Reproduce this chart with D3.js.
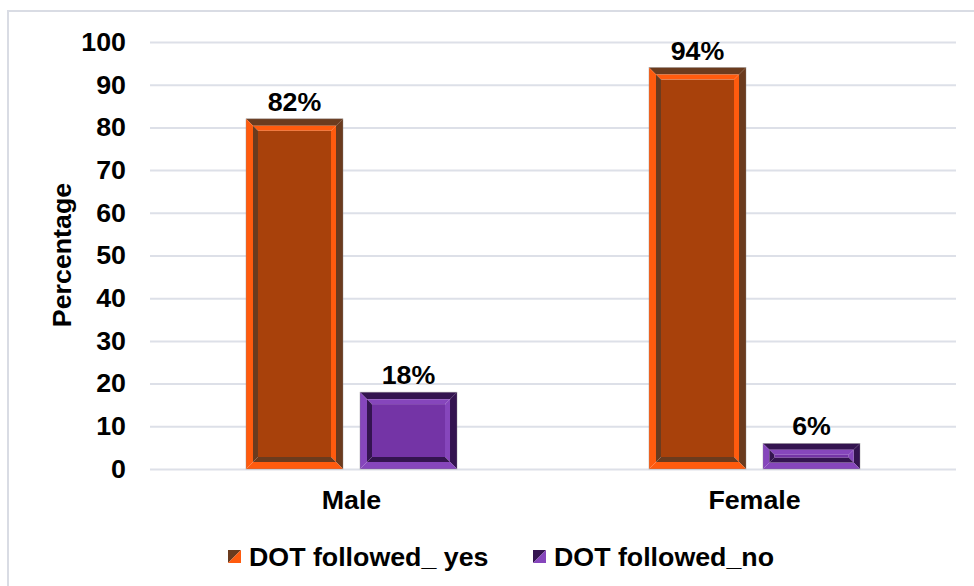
<!DOCTYPE html>
<html>
<head>
<meta charset="utf-8">
<script src="https://cdn.jsdelivr.net/npm/d3@7"></script>
<style>
  html, body { margin: 0; padding: 0; background: #fff; }
  svg { display: block; font-family: "Liberation Sans", Arial, sans-serif; font-weight: bold; }
</style>
</head>
<body>
<svg id="chart" width="974" height="586"></svg>
<script>
// Chart data
const categories = ["Male", "Female"];
const seriesNames = ["DOT followed_ yes", "DOT followed_no"];
const yesValues = [82, 94];
const noValues = [18, 6];
const yTicks = [0, 10, 20, 30, 40, 50, 60, 70, 80, 90, 100];

// Bevel palettes per series: face, light edge, dark edge
const palettes = [
  { face: "#a8410b", light: "#ff5b0e", dark: "#6b3b1e" },
  { face: "#7434a6", light: "#8646bc", dark: "#341450" }
];

const svg = d3.select("#chart");
const W = 974, H = 586;
const margin = { left: 150, right: 18, top: 42, bottom: 117 };
const plotW = W - margin.left - margin.right;
const plotH = H - margin.top - margin.bottom;
const FS = 26;
const SX = 1.03; // slight horizontal widening of the bold labels

// outer frame of the chart area
svg.append("rect")
  .attr("x", 8).attr("y", 11)
  .attr("width", W + 20).attr("height", H + 20)
  .attr("fill", "#fff")
  .attr("stroke", "#d9dce4").attr("stroke-width", 2);

const g = svg.append("g").attr("transform", `translate(${margin.left},${margin.top})`);

const x0 = d3.scaleBand().domain(categories).range([0, plotW]).padding(0);
const x1 = d3.scaleBand().domain(seriesNames).range([0, x0.bandwidth()]).paddingInner(0.149).paddingOuter(0.842);
const y = d3.scaleLinear().domain([0, 100]).range([plotH, 0]);

// helper: text anchored at (x, y) with a small horizontal stretch
function label(sel, tx, ty, txt, anchor) {
  return sel.append("text")
    .attr("transform", `translate(${tx},${ty}) scale(${SX},1)`)
    .attr("text-anchor", anchor || "middle")
    .style("font-size", FS + "px")
    .text(txt);
}

// y axis with gridlines
const yAxis = g.append("g")
  .call(d3.axisLeft(y).tickValues(yTicks).tickSizeInner(-plotW).tickSizeOuter(0).tickPadding(24));
yAxis.select(".domain").remove();
yAxis.selectAll(".tick line").attr("stroke", "#dde0e8").attr("stroke-width", 2);
yAxis.selectAll(".tick text")
  .attr("fill", "#000").style("font-size", FS + "px").style("font-weight", "bold")
  .style("font-family", '"Liberation Sans", Arial, sans-serif')
  .attr("transform", `translate(-24,0) scale(${SX},1)`).attr("x", 0);

// x category labels
categories.forEach(c => label(g, x0(c) + x0.bandwidth() / 2, plotH + 40, c));

// y axis title
svg.append("text")
  .attr("transform", `translate(71,255) rotate(-90) scale(${SX},1)`)
  .attr("text-anchor", "middle")
  .style("font-size", FS + "px")
  .text("Percentage");

// Draw a bevelled bar: outer frame (light left/bottom, dark top/right)
// and inner frame (light top/right, dark left/bottom) around a flat face.
function bevelBar(sel, bx, by, bw, bh, pal) {
  const o = Math.min(7, bh / 4), i = Math.min(5, bh / 5);
  const quad = (pts, fill) => sel.append("polygon")
    .attr("points", pts.map(p => p.join(",")).join(" ")).attr("fill", fill);
  const L = bx, R = bx + bw, T = by, B = by + bh;
  // outer ring
  quad([[L, T], [R, T], [R - o, T + o], [L + o, T + o]], pal.dark);
  quad([[R, T], [R, B], [R - o, B - o], [R - o, T + o]], pal.dark);
  quad([[L, T], [L + o, T + o], [L + o, B - o], [L, B]], pal.light);
  quad([[L, B], [L + o, B - o], [R - o, B - o], [R, B]], pal.light);
  // inner ring
  const L2 = L + o, R2 = R - o, T2 = T + o, B2 = B - o;
  quad([[L2, T2], [R2, T2], [R2 - i, T2 + i], [L2 + i, T2 + i]], pal.light);
  quad([[R2, T2], [R2, B2], [R2 - i, B2 - i], [R2 - i, T2 + i]], pal.light);
  quad([[L2, T2], [L2 + i, T2 + i], [L2 + i, B2 - i], [L2, B2]], pal.dark);
  quad([[L2, B2], [L2 + i, B2 - i], [R2 - i, B2 - i], [R2, B2]], pal.dark);
  // face
  sel.append("rect")
    .attr("x", L2 + i).attr("y", T2 + i)
    .attr("width", Math.max(0, bw - 2 * (o + i))).attr("height", Math.max(0, bh - 2 * (o + i)))
    .attr("fill", pal.face);
  sel.append("rect")
    .attr("x", L).attr("y", T).attr("width", bw).attr("height", bh)
    .attr("fill", "none").attr("stroke", "#8a8a8a").attr("stroke-width", 0.6).attr("opacity", 0.6);
}

const seriesValues = [yesValues, noValues];
categories.forEach((cat, ci) => {
  seriesValues.forEach((vals, si) => {
    const v = vals[ci];
    const bx = x0(cat) + x1(seriesNames[si]);
    const bw = x1.bandwidth();
    const by = y(v);
    const bh = y(0) - y(v);
    bevelBar(g.append("g"), bx, by, bw, bh, palettes[si]);
    label(g, bx + bw / 2, by - 8, v + "%");
  });
});

// legend
const legend = svg.append("g").attr("transform", "translate(228,550)");
const legendX = [0, 305];
seriesNames.forEach((name, si) => {
  const lg = legend.append("g").attr("transform", `translate(${legendX[si]},0)`);
  const pal = palettes[si];
  const s = 13;
  lg.append("polygon").attr("points", `0,0 ${s},0 0,${s}`).attr("fill", pal.dark);
  lg.append("polygon").attr("points", `${s},0 ${s},${s} 0,${s}`).attr("fill", pal.light);
  label(lg, 21, s / 2 + 9, name, "start");
});
</script>
</body>
</html>
